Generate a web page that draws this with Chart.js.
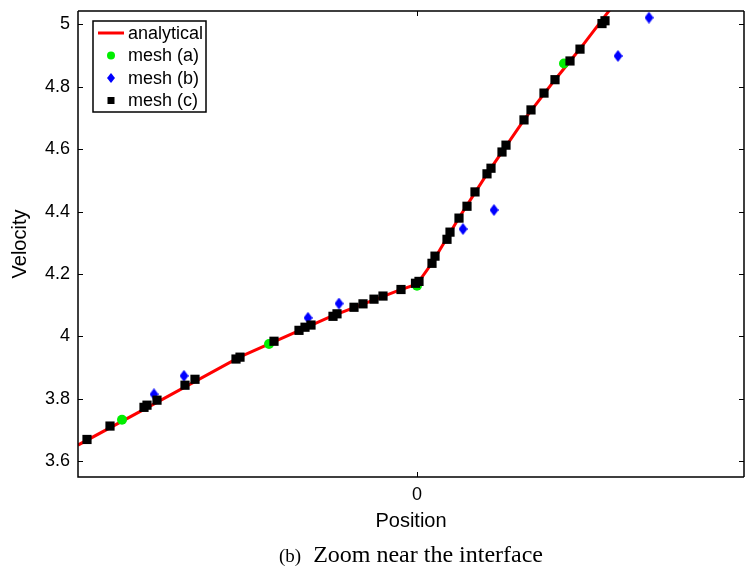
<!DOCTYPE html>
<html>
<head>
<meta charset="utf-8">
<script src="https://cdn.jsdelivr.net/npm/chart.js@4.4.1/dist/chart.umd.min.js"></script>
<style>
  html, body { margin: 0; padding: 0; background: #fff; }
  #wrap { position: relative; width: 745px; height: 568px; overflow: hidden; }
  #chart { position: absolute; left: 0; top: 0; }
  #caption {
    position: absolute; left: 78px; width: 666px; top: 540px;
    text-align: center; font: 24px "Liberation Serif", serif; line-height: 28px; color: #000;
    white-space: nowrap;
  }
  #caption .tag { font-size: 19px; margin-right: 12px; }
</style>
</head>
<body>
<div id="wrap">
  <canvas id="chart" width="745" height="568"></canvas>
  <div id="caption"><span class="tag">(b)</span>Zoom near the interface</div>
</div>
<script>
// values (x in arbitrary units, interface at 0)
const analyticalX = [-3.39, -2.67, -1.77, -0.87, -0.17, 0, 0.15, 0.42, 0.70, 1.07, 1.38, 1.63, 1.93];
const analyticalY = [3.651, 3.776, 3.934, 4.062, 4.149, 4.167, 4.235, 4.380, 4.521, 4.694, 4.823, 4.922, 5.048];

const meshAX = [-2.95, -1.48, 0, 1.47];
const meshAY = [3.732, 3.975, 4.162, 4.875];

const meshBX = [-2.63, -2.33, -1.09, -0.78, 0.46, 0.77, 2.01, 2.32];
const meshBY = [3.814, 3.873, 4.059, 4.105, 4.344, 4.405, 4.899, 5.022];

const meshCX = [-3.30, -3.07, -2.73, -2.70, -2.60, -2.32, -2.22, -1.81, -1.77, -1.43,
  -1.18, -1.12, -1.06, -0.84, -0.80, -0.63, -0.54, -0.43, -0.34, -0.16,
  -0.015, 0.02, 0.15, 0.18, 0.30, 0.33, 0.42, 0.50, 0.58, 0.70,
  0.74, 0.85, 0.89, 1.07, 1.14, 1.27, 1.38, 1.53, 1.63, 1.85, 1.88];
const meshCY = [3.669, 3.712, 3.772, 3.779, 3.795, 3.843, 3.862, 3.927, 3.933, 3.984,
  4.019, 4.029, 4.036, 4.064, 4.072, 4.093, 4.104, 4.119, 4.129, 4.150,
  4.170, 4.176, 4.234, 4.257, 4.311, 4.334, 4.379, 4.417, 4.463, 4.521,
  4.539, 4.591, 4.613, 4.694, 4.726, 4.780, 4.823, 4.883, 4.921, 5.003, 5.012];

const xTicks = [0];
const yTicks = [3.6, 3.8, 4.0, 4.2, 4.4, 4.6, 4.8, 5.0];
const legendLabels = ['analytical', 'mesh (a)', 'mesh (b)', 'mesh (c)'];

const X_MIN = -3.39, X_MAX = 3.27, Y_MIN = 3.5486, Y_MAX = 5.0433;
const AXIS_FONT = { family: '"Liberation Sans", Arial, sans-serif', size: 18 };
const TITLE_FONT = { family: '"Liberation Sans", Arial, sans-serif', size: 20 };

function zip(xs, ys) {
  return xs.map((x, i) => ({ x, y: ys[i] }));
}

function diamondImage(w, h, color) {
  const c = document.createElement('canvas');
  c.width = w;
  c.height = h;
  const g = c.getContext('2d');
  g.fillStyle = color;
  g.beginPath();
  g.moveTo(w / 2, 0);
  g.lineTo(w, h / 2);
  g.lineTo(w / 2, h);
  g.lineTo(0, h / 2);
  g.closePath();
  g.fill();
  return c;
}

const diamond = diamondImage(9, 12, '#0000ff');

// no label overhang padding, the frame is placed by layout padding only
function noPadding(scale) {
  scale.paddingTop = 0;
  scale.paddingBottom = 0;
  scale.paddingLeft = 0;
  scale.paddingRight = 0;
}

// box, inward ticks and boxed legend, matlab style
const frame = {
  id: 'frame',
  afterDatasetsDraw(chart) {
    const { ctx, chartArea: a, scales } = chart;
    ctx.save();
    ctx.strokeStyle = '#000';
    ctx.lineWidth = 1.5;
    ctx.beginPath();
    ctx.moveTo(a.left, a.top);
    ctx.lineTo(a.right, a.top);
    ctx.moveTo(a.left, a.top);
    ctx.lineTo(a.left, a.bottom);
    ctx.lineTo(a.right, a.bottom);
    ctx.moveTo(a.right, a.top);
    ctx.lineTo(a.right, a.bottom);
    ctx.stroke();

    ctx.lineWidth = 1;
    ctx.beginPath();
    yTicks.forEach((v) => {
      const y = Math.round(scales.y.getPixelForValue(v)) + 0.5;
      ctx.moveTo(a.left, y);
      ctx.lineTo(a.left + 5, y);
      ctx.moveTo(a.right, y);
      ctx.lineTo(a.right - 5, y);
    });
    xTicks.forEach((v) => {
      const x = Math.round(scales.x.getPixelForValue(v)) + 0.5;
      ctx.moveTo(x, a.bottom);
      ctx.lineTo(x, a.bottom - 5);
      ctx.moveTo(x, a.top);
      ctx.lineTo(x, a.top + 5);
    });
    ctx.stroke();

    // legend box
    const bx = a.left + 15, by = a.top + 10, bw = 113, bh = 91;
    ctx.fillStyle = '#fff';
    ctx.fillRect(bx, by, bw, bh);
    ctx.lineWidth = 1.5;
    ctx.strokeRect(bx, by, bw, bh);
    ctx.font = '18px "Liberation Sans", Arial, sans-serif';
    ctx.textBaseline = 'middle';
    ctx.textAlign = 'left';
    const rowH = 22.5;
    legendLabels.forEach((label, i) => {
      const cy = by + 12 + i * rowH;
      const mx = bx + 18;
      if (i === 0) {
        ctx.strokeStyle = '#ff0000';
        ctx.lineWidth = 3;
        ctx.beginPath();
        ctx.moveTo(bx + 5, cy);
        ctx.lineTo(bx + 31, cy);
        ctx.stroke();
      } else if (i === 1) {
        ctx.fillStyle = '#00ee00';
        ctx.beginPath();
        ctx.arc(mx, cy, 4, 0, Math.PI * 2);
        ctx.fill();
      } else if (i === 2) {
        ctx.drawImage(diamondImage(8, 10, '#0000ff'), mx - 4, cy - 5);
      } else {
        ctx.fillStyle = '#000';
        ctx.fillRect(mx - 3.5, cy - 3.5, 7, 7);
      }
      ctx.fillStyle = '#000';
      ctx.fillText(label, bx + 35, cy + 1);
    });
    ctx.restore();
  },
};

new Chart(document.getElementById('chart'), {
  type: 'scatter',
  data: {
    datasets: [
      {
        label: legendLabels[0],
        data: zip(analyticalX, analyticalY),
        showLine: true,
        borderColor: '#ff0000',
        borderWidth: 3,
        pointRadius: 0,
        tension: 0,
        order: 4,
      },
      {
        label: legendLabels[1],
        data: zip(meshAX, meshAY),
        pointStyle: 'circle',
        pointRadius: 5,
        backgroundColor: '#00ee00',
        borderWidth: 0,
        order: 3,
      },
      {
        label: legendLabels[2],
        data: zip(meshBX, meshBY),
        pointStyle: diamond,
        pointRadius: 6,
        order: 2,
      },
      {
        label: legendLabels[3],
        data: zip(meshCX, meshCY),
        pointStyle: 'rect',
        pointRadius: 6.5,
        backgroundColor: '#000',
        borderWidth: 0,
        order: 1,
      },
    ],
  },
  options: {
    responsive: false,
    animation: false,
    layout: { autoPadding: false, padding: { top: 11, right: 1, bottom: 35, left: 0 } },
    plugins: {
      legend: { display: false },
      tooltip: { enabled: false },
    },
    scales: {
      x: {
        type: 'linear',
        min: X_MIN,
        max: X_MAX,
        afterBuildTicks: (scale) => { scale.ticks = xTicks.map((value) => ({ value })); },
        afterFit: (scale) => { scale.height = 56; noPadding(scale); },
        grid: { display: false, drawTicks: false },
        border: { display: false },
        ticks: { color: '#000', font: AXIS_FONT, padding: 7, maxRotation: 0, callback: (v) => String(v) },
        title: { display: true, text: 'Position', color: '#000', font: TITLE_FONT, padding: { top: 0, bottom: 0 } },
      },
      y: {
        type: 'linear',
        min: Y_MIN,
        max: Y_MAX,
        afterBuildTicks: (scale) => { scale.ticks = yTicks.map((value) => ({ value })); },
        afterFit: (scale) => { scale.width = 78; noPadding(scale); },
        grid: { display: false, drawTicks: false },
        border: { display: false },
        ticks: { color: '#000', font: AXIS_FONT, padding: 8, callback: (v) => String(Number(v.toFixed(1))) },
        title: { display: true, text: 'Velocity', color: '#000', font: TITLE_FONT, padding: { top: 8, bottom: 0 } },
      },
    },
  },
  plugins: [frame],
});
</script>
</body>
</html>
